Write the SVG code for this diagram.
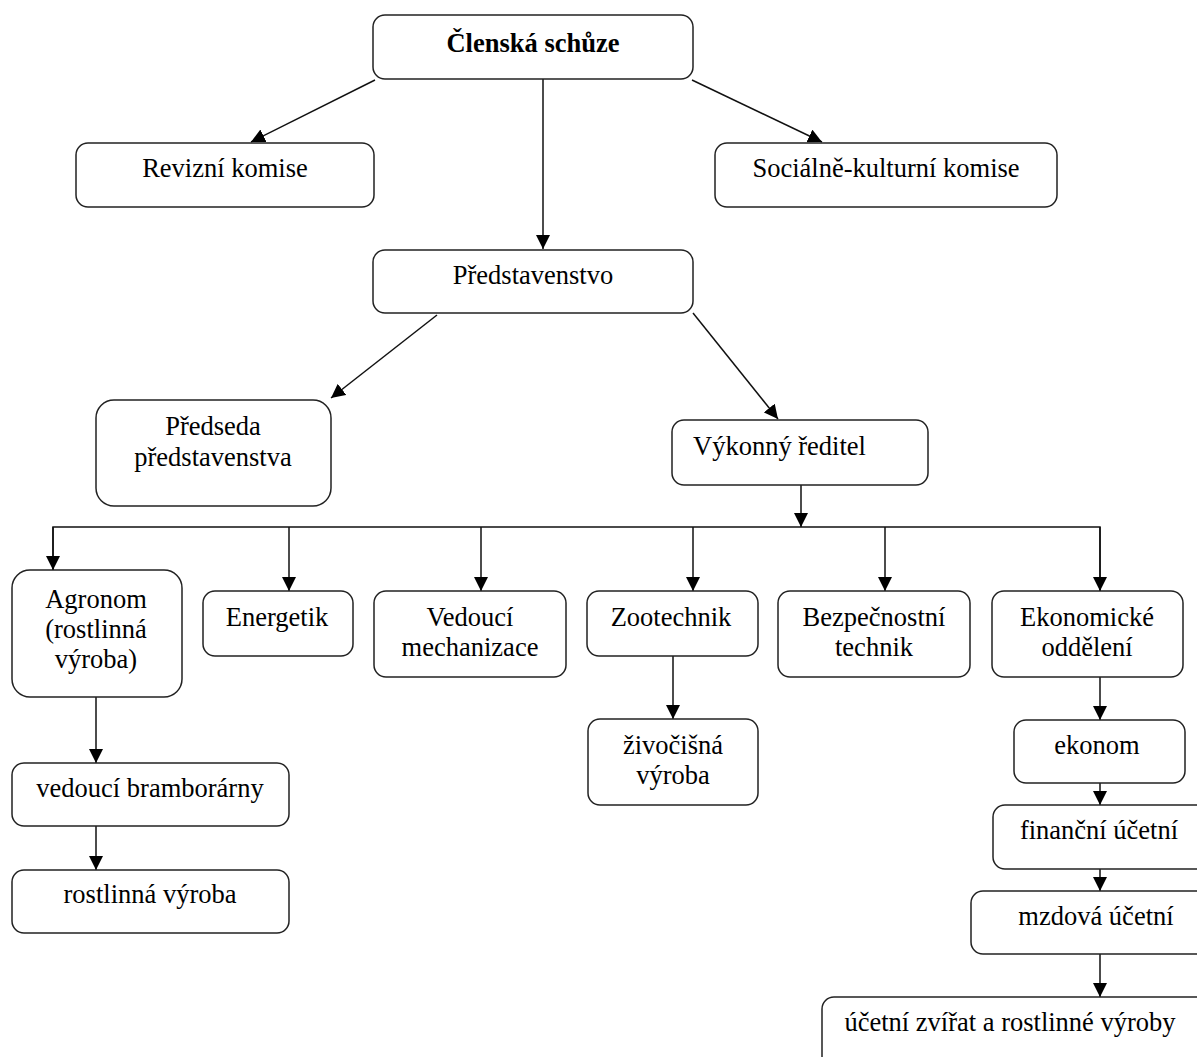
<svg xmlns="http://www.w3.org/2000/svg" width="1197" height="1057" viewBox="0 0 1197 1057">
<defs>
<marker id="ah" viewBox="0 0 14 14" refX="14" refY="7" markerWidth="14" markerHeight="14" markerUnits="userSpaceOnUse" orient="auto">
<path d="M0,0 L14,7 L0,14 Z" fill="#000"/>
</marker>
<style>
.b{fill:#fff;stroke:#222;stroke-width:1.5}
.t{font-size:26.5px;fill:#000;text-anchor:middle}
.c{fill:none;stroke:#111;stroke-width:1.5}
.a{marker-end:url(#ah)}
</style>
</defs>
<rect width="1197" height="1057" fill="#fff"/>
<g id="connectors">
<line class="c a" x1="375" y1="80" x2="251" y2="142"/>
<line class="c a" x1="692" y1="80" x2="822" y2="142"/>
<line class="c a" x1="543" y1="79" x2="543" y2="249"/>
<line class="c a" x1="437" y1="315" x2="331" y2="398"/>
<line class="c a" x1="693" y1="313" x2="778" y2="419"/>
<line class="c a" x1="801" y1="485" x2="801" y2="527"/>
<polyline class="c" points="53,570 53,527 1100,527 1100,591"/>
<line class="c a" x1="53" y1="527" x2="53" y2="570"/>
<line class="c a" x1="289" y1="527" x2="289" y2="591"/>
<line class="c a" x1="481" y1="527" x2="481" y2="591"/>
<line class="c a" x1="693" y1="527" x2="693" y2="591"/>
<line class="c a" x1="885" y1="527" x2="885" y2="591"/>
<line class="c a" x1="1100" y1="527" x2="1100" y2="591"/>
<line class="c a" x1="96" y1="697" x2="96" y2="763"/>
<line class="c a" x1="96" y1="826" x2="96" y2="870"/>
<line class="c a" x1="673" y1="656" x2="673" y2="719"/>
<line class="c a" x1="1100" y1="677" x2="1100" y2="720"/>
<line class="c a" x1="1100" y1="783" x2="1100" y2="805"/>
<line class="c a" x1="1100" y1="869" x2="1100" y2="891"/>
<line class="c a" x1="1100" y1="954" x2="1100" y2="997"/>
</g>
<g font-family="Liberation Serif, Tinos, Times New Roman, DejaVu Serif, serif">
<g id="n-clenska-schuze"><rect class="b" x="373" y="15" width="320" height="64" rx="12"/><text class="t" x="533" y="52" font-weight="bold">Členská schůze</text></g>
<g id="n-revizni-komise"><rect class="b" x="76" y="143" width="298" height="64" rx="12"/><text class="t" x="225" y="177">Revizní komise</text></g>
<g id="n-socialne-kulturni"><rect class="b" x="715" y="143" width="342" height="64" rx="12"/><text class="t" x="886" y="177">Sociálně-kulturní komise</text></g>
<g id="n-predstavenstvo"><rect class="b" x="373" y="250" width="320" height="63" rx="12"/><text class="t" x="533" y="284">Představenstvo</text></g>
<g id="n-predseda"><rect class="b" x="96" y="400" width="235" height="106" rx="18"/><text class="t" x="213" y="435">Předseda</text><text class="t" x="213" y="466">představenstva</text></g>
<g id="n-vykonny-reditel"><rect class="b" x="672" y="420" width="256" height="65" rx="12"/><text class="t" x="693" y="455" style="text-anchor:start">Výkonný ředitel</text></g>
<g id="n-agronom"><rect class="b" x="12" y="570" width="170" height="127" rx="18"/><text class="t" x="96" y="608">Agronom</text><text class="t" x="96" y="638">(rostlinná</text><text class="t" x="96" y="668">výroba)</text></g>
<g id="n-energetik"><rect class="b" x="203" y="591" width="150" height="65" rx="12"/><text class="t" x="277" y="626">Energetik</text></g>
<g id="n-vedouci-mechanizace"><rect class="b" x="374" y="591" width="192" height="86" rx="12"/><text class="t" x="470" y="626">Vedoucí</text><text class="t" x="470" y="656">mechanizace</text></g>
<g id="n-zootechnik"><rect class="b" x="587" y="591" width="171" height="65" rx="12"/><text class="t" x="671" y="626">Zootechnik</text></g>
<g id="n-bezpecnostni-technik"><rect class="b" x="778" y="591" width="192" height="86" rx="12"/><text class="t" x="874" y="626">Bezpečnostní</text><text class="t" x="874" y="656">technik</text></g>
<g id="n-ekonomicke-oddeleni"><rect class="b" x="992" y="591" width="191" height="86" rx="12"/><text class="t" x="1087" y="626">Ekonomické</text><text class="t" x="1087" y="656">oddělení</text></g>
<g id="n-vedouci-bramborarny"><rect class="b" x="12" y="763" width="277" height="63" rx="12"/><text class="t" x="150" y="797">vedoucí bramborárny</text></g>
<g id="n-rostlinna-vyroba"><rect class="b" x="12" y="870" width="277" height="63" rx="12"/><text class="t" x="150" y="903">rostlinná výroba</text></g>
<g id="n-zivocisna-vyroba"><rect class="b" x="588" y="719" width="170" height="86" rx="12"/><text class="t" x="673" y="754">živočišná</text><text class="t" x="673" y="784">výroba</text></g>
<g id="n-ekonom"><rect class="b" x="1014" y="720" width="171" height="63" rx="12"/><text class="t" x="1097" y="754">ekonom</text></g>
<g id="n-financni-ucetni"><rect class="b" x="993" y="805" width="220" height="64" rx="12"/><text class="t" x="1099" y="839">finanční účetní</text></g>
<g id="n-mzdova-ucetni"><rect class="b" x="971" y="891" width="250" height="63" rx="12"/><text class="t" x="1096" y="925">mzdová účetní</text></g>
<g id="n-ucetni-zvirat"><rect class="b" x="822" y="997" width="400" height="80" rx="12"/><text class="t" x="1010" y="1031">účetní zvířat a rostlinné výroby</text></g>
</g>
</svg>
